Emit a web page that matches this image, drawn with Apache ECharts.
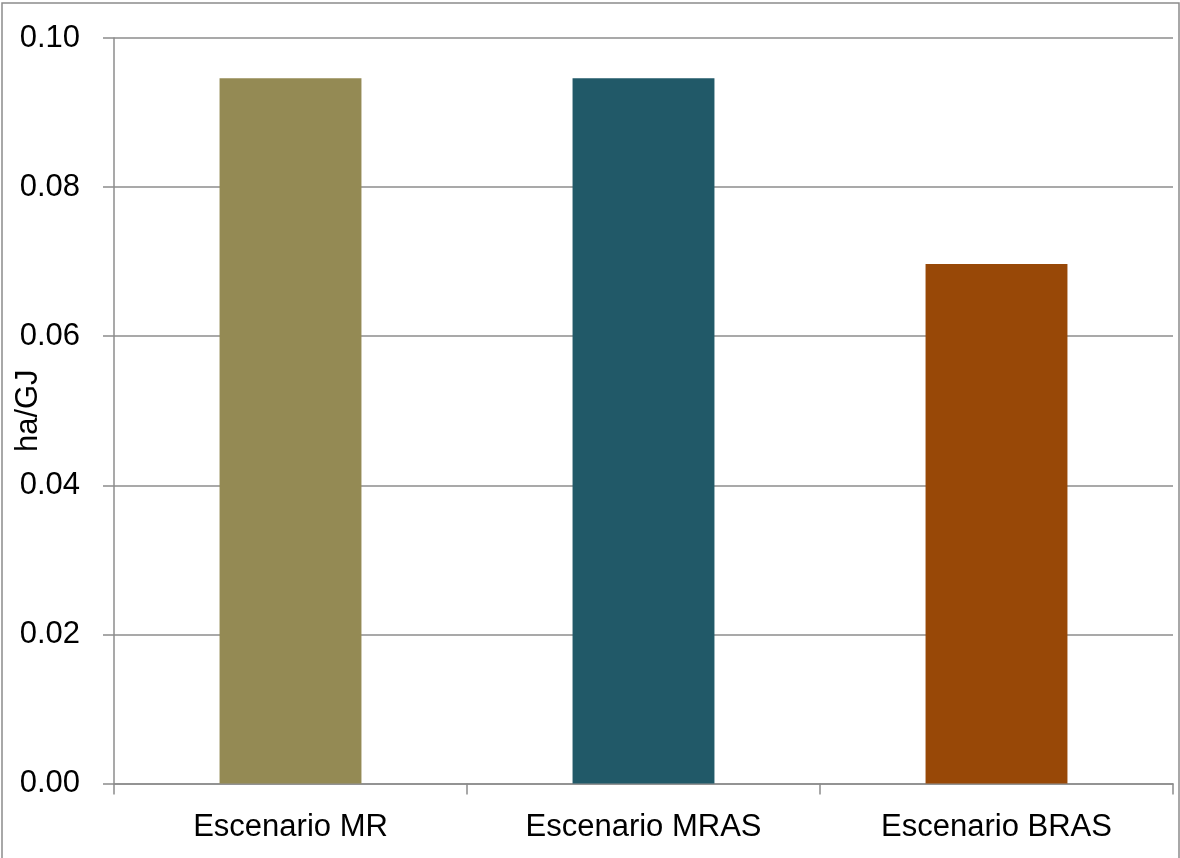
<!DOCTYPE html>
<html>
<head>
<meta charset="utf-8">
<script src="https://cdn.jsdelivr.net/npm/echarts@6/dist/echarts.min.js"></script>
<style>
  html, body { margin: 0; padding: 0; background: #ffffff; }
  #chart { width: 1180px; height: 858px; }
</style>
</head>
<body>
<div id="chart"></div>
<script>
// Land use per unit of energy for each scenario
const categories = ['Escenario MR', 'Escenario MRAS', 'Escenario BRAS'];
const values = [0.0946, 0.0946, 0.0697];
const barColors = ['#948A54', '#215968', '#984807'];
const yTicks = [0, 0.02, 0.04, 0.06, 0.08, 0.10];

const axisGray = '#8c8c8c';
const fontFamily = '"Liberation Sans Narrow", "Arial Narrow", "Liberation Sans", Arial, sans-serif';

const chart = echarts.init(document.getElementById('chart'), null, { renderer: 'canvas' });

chart.setOption({
  backgroundColor: '#ffffff',
  animation: false,
  graphic: [{
    type: 'rect',
    shape: { x: 2, y: 3, width: 1177, height: 900 },
    style: { fill: 'none', stroke: axisGray, lineWidth: 1.5 },
    silent: true
  }],
  grid: { left: 114, right: 7, top: 38, bottom: 74.5, containLabel: false, outerBoundsMode: 'none' },
  xAxis: {
    type: 'category',
    data: categories,
    axisLine: { show: true, lineStyle: { color: axisGray, width: 1.5 } },
    axisTick: { show: true, length: 11, alignWithLabel: false, lineStyle: { color: axisGray, width: 1.5 } },
    axisLabel: { color: '#000000', fontFamily: fontFamily, fontSize: 31, margin: 28 },
    splitLine: { show: false }
  },
  yAxis: {
    type: 'value',
    min: yTicks[0],
    max: yTicks[yTicks.length - 1],
    interval: 0.02,
    name: 'ha/GJ',
    nameLocation: 'middle',
    nameRotate: 90,
    nameGap: 70,
    nameMoveOverlap: false,
    nameTextStyle: { color: '#000000', fontFamily: fontFamily, fontSize: 31 },
    axisLine: { show: true, lineStyle: { color: axisGray, width: 1.5 } },
    axisTick: { show: true, length: 11, lineStyle: { color: axisGray, width: 1.5 } },
    axisLabel: {
      color: '#000000', fontFamily: fontFamily, fontSize: 31, margin: 34,
      formatter: v => v.toFixed(2)
    },
    splitLine: { show: true, lineStyle: { color: axisGray, width: 1.5 } }
  },
  series: [{
    type: 'bar',
    barWidth: '40.2%',
    data: values.map((v, i) => ({ value: v, itemStyle: { color: barColors[i] } })),
    label: { show: false }
  }]
});
</script>
</body>
</html>
